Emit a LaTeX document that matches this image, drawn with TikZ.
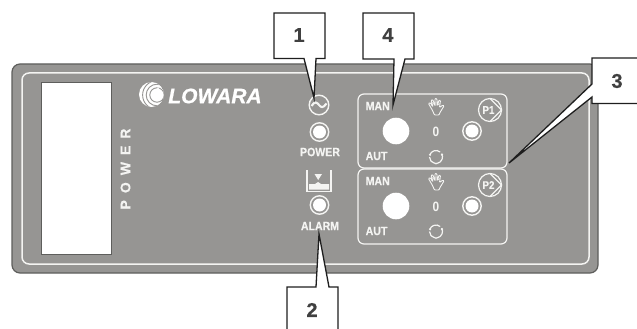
\documentclass[tikz,border=0pt]{standalone}
\usepackage{fontspec}
\setmainfont{Liberation Sans}
\definecolor{panel}{HTML}{969593}
\definecolor{paneledge}{HTML}{5E5E5C}
\definecolor{pen}{HTML}{1E1E1E}
\definecolor{digit}{HTML}{404040}
\definecolor{soft}{HTML}{F4F4F2}
\tikzset{
  x=1pt,y=-1pt,
  wline/.style={draw=soft,line width=1.2pt},
  lbl/.style={text=soft,font=\fontsize{12}{14}\selectfont\bfseries\addfontfeature{FakeBold=.4},inner sep=0pt,xscale=.88},
  num/.style={text=digit,font=\fontsize{20}{22}\selectfont\bfseries\addfontfeature{FakeBold=.4},inner sep=0pt},
  callout/.style={draw=pen,fill=white,line width=1.3pt,line join=miter},
  unitbox/.style={wline,rounded corners=6pt},
  ledring/.pic={
    \draw[wline,line width=1.4pt] (0,0) circle[radius=9.2];
    \fill[white] (0,0) circle[radius=6.5];
  },
  handicon/.pic={
    \draw[draw=soft,line width=.9pt,line join=round,rounded corners=.8pt]
      (3,8.5) -- (-1.5,8.5) -- (-3.5,4) -- (-7.5,-3) -- (-6,-4) -- (-3,0) -- (-5,-6) -- (-3.3,-7)
      -- (-1,-1) -- (-1,-8) -- (.8,-8) -- (1.5,-1) -- (3,-6.5) -- (4.5,-6) -- (3.5,1)
      -- (7,-1.5) -- (8,-.5) -- (4,6) -- cycle;
    \draw[draw=soft,line width=.6pt] (-5,-2) -- (-3,0) (-3.6,-4) -- (-1,-1) (0,-5) -- (0,-1) (3.5,-3) -- (1.5,-1);
  },
  ringicon/.pic={
    \draw[wline] (80:6.5) arc[start angle=80,end angle=-30,radius=6.5];
    \draw[wline] (-50:6.5) arc[start angle=-50,end angle=-160,radius=6.5];
    \draw[wline] (-180:6.5) arc[start angle=-180,end angle=-260,radius=6.5];
    \fill[soft] (-6,-2.2) circle[radius=1.2] (6,-2.4) circle[radius=1.2] (0,6.5) circle[radius=1.2];
  },
  pumpdisc/.pic={
    \draw[wline] (0,0) circle[radius=11.5];
    \draw[wline] (0,-11.5) -- (11.5,0) -- (0,11.5);
  },
}
\begin{document}
\begin{tikzpicture}
\useasboundingbox (0,0) rectangle (637,329);
\clip (0,0) rectangle (637,329);
% panel
\node[draw=paneledge,fill=panel,line width=1.2pt,rounded corners=8pt,minimum width=586pt,minimum height=209pt,inner sep=0pt] (panelbody) at (305,168.5) {};
\node[wline,line width=1.5pt,rounded corners=7pt,minimum width=567pt,minimum height=191pt,inner sep=0pt] (panelinner) at (305.5,168.5) {};
\node[draw=paneledge,fill=white,line width=.8pt,minimum width=70pt,minimum height=172pt,inner sep=0pt] (window) at (76,168) {};
\node[rotate=90,text=soft,inner sep=0pt,font=\fontsize{14}{16}\selectfont\bfseries\addfontfeature{LetterSpace=50,FakeBold=.3}] (vpower) at (125.5,169) {POWER};
% logo
\begin{scope}
  \clip (151.5,94.5) circle[radius=12.5];
  \fill[white] (151.5,94.5) circle[radius=12.5];
  \draw[panel,line width=.9pt] (157,95) circle[radius=7.2] (157,95) circle[radius=10.8] (157,95) circle[radius=14.4];
\end{scope}
\fill[white] (158,87) .. controls (159,90) and (163,92) .. (163,96) .. controls (163,102) and (153,102) .. (153,96) .. controls (153,92) and (157,90) .. (158,87) -- cycle;
\node[text=white,inner sep=0pt,font=\fontsize{21}{24}\selectfont\bfseries\itshape\addfontfeature{FakeBold=.8}] (logotext) at (215,96) {LOWARA};
% central indicators
\draw[wline,line width=1.4pt] (319,105) circle[radius=9.8];
\draw[soft,line width=2.1pt] (311.5,106) .. controls (315,100.5) and (317,102.5) .. (319,105) .. controls (321,107.5) and (323,108.5) .. (326.5,103.5);
\pic at (319.5,132) {ledring};
\node[lbl] (powerlabel) at (320,152) {POWER};
\draw[wline,line width=1.3pt] (307,170) -- (307,191.5) -- (331,191.5) -- (331,170);
\fill[soft] (309,184) -- (315,184) -- (318,182) -- (321,184) -- (329,184) -- (329,189.5) -- (309,189.5) -- cycle;
\fill[soft] (314.5,174) -- (322,174) -- (318.2,180) -- cycle;
\pic at (319.5,205) {ledring};
\node[lbl] (alarmlabel) at (320,226) {ALARM};
% pump units
\node[unitbox,minimum width=149pt,minimum height=74pt,inner sep=0pt] (unitA) at (432.5,131) {};
\node[unitbox,minimum width=149pt,minimum height=75pt,inner sep=0pt] (unitB) at (432.5,206.5) {};
\node[lbl,anchor=west] (manA) at (365.5,106) {MAN};
\node[lbl,anchor=west] (autA) at (365.5,156) {AUT};
\node[lbl,anchor=west] (manB) at (365.5,181) {MAN};
\node[lbl,anchor=west] (autB) at (365.5,231) {AUT};
\fill[white] (396,131) circle[radius=13.3] (396,206) circle[radius=13.3];
\node[lbl,font=\fontsize{13.5}{15}\selectfont\bfseries] (zeroA) at (436,132) {0};
\node[lbl,font=\fontsize{13.5}{15}\selectfont\bfseries] (zeroB) at (436,207) {0};
\pic at (436,106.5) {handicon};
\pic at (436,181.5) {handicon};
\pic at (436,157) {ringicon};
\pic at (436,231.5) {ringicon};
\pic at (472,131) {ledring};
\pic at (472,206) {ledring};
\pic at (490,110) {pumpdisc};
\pic at (490,185) {pumpdisc};
\node[lbl,font=\fontsize{11}{13}\selectfont\bfseries\addfontfeature{FakeBold=.3}] (pA) at (488.5,110) {P1};
\node[lbl,font=\fontsize{11}{13}\selectfont\bfseries\addfontfeature{FakeBold=.3}] (pB) at (488.5,185) {P2};
% callouts
\draw[callout] (274,13) -- (325,13) -- (325,58.5) -- (316,58.5) -- (314,98) -- (304,58.5) -- (274,58.5) -- cycle;
\node[num] (one) at (299,35) {1};
\draw[callout] (363,13) -- (414,13) -- (414,59) -- (405,59) -- (393,105) -- (394,59) -- (363,59) -- cycle;
\node[num] (four) at (388,35) {4};
\draw[callout] (287,340) -- (287,287) -- (316,287) -- (319,234) -- (329,287) -- (338,287) -- (338,340);
\node[num] (two) at (312,310) {2};
\draw[callout] (645,58) -- (592,58) -- (592,84) -- (509,163) -- (592,97) -- (592,103.5) -- (645,103.5);
\node[num] (three) at (617,81) {3};
\end{tikzpicture}
\end{document}
